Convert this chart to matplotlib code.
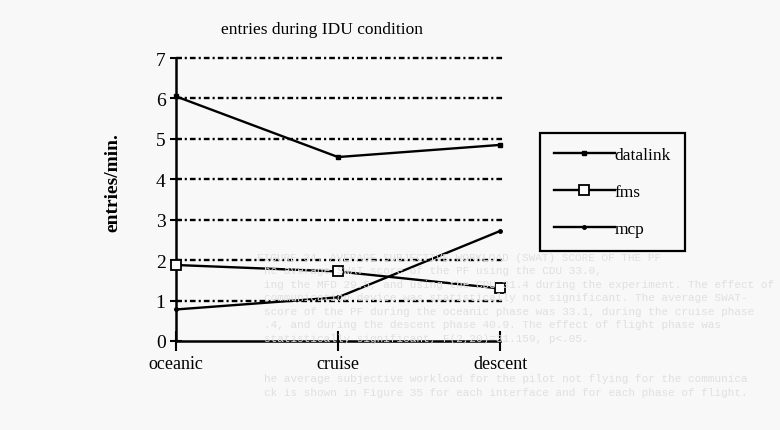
import matplotlib
matplotlib.use('Agg')
from matplotlib import pyplot as plt

# flight phases on the x axis
phases = ['oceanic', 'cruise', 'descent']

# entries per minute for each input device
datalink = [6.05, 4.55, 4.85]
fms = [1.88, 1.72, 1.30]
mcp = [0.78, 1.08, 2.72]

y_ticks = [0, 1, 2, 3, 4, 5, 6, 7]

# faint text showing through from the back of the page
back_lines = [
    'FIGURE 34. AVERAGE SUBJECTIVE WORKLOAD (SWAT) SCORE OF THE PF',
    'he average SWAT score of the PF using the CDU 33.0,',
    'ing the MFD 29.5, and using the CDU 31.4 during the experiment. The effect of',
    'communication device was statistically not significant. The average SWAT-',
    'score of the PF during the oceanic phase was 33.1, during the cruise phase',
    '.4, and during the descent phase 40.9. The effect of flight phase was',
    'statistically significant, F(2,20)=31.159, p<.05.',
    '',
    '',
    'he average subjective workload for the pilot not flying for the communica',
    'ck is shown in Figure 35 for each interface and for each phase of flight.',
]

serif = 'Liberation Serif'
bg = '#f8f8f8'

fig = plt.figure(figsize=(7.8, 4.31), dpi=100, facecolor=bg)

for i, line in enumerate(back_lines):
    x0 = 0.33 if i == 0 else 0.338
    fig.text(x0, 1 - (258 + i * 13.5) / 431, line, family='Liberation Mono',
             fontsize=7.9, color='#e0e0e0', va='center', zorder=0)

ax = fig.add_axes([176 / 780, 1 - 342 / 431, 324 / 780, 283 / 431])
ax.patch.set_visible(False)
x = list(range(len(phases)))

# dash-dot grid lines
for v in y_ticks[1:]:
    ax.axhline(v, xmin=0, xmax=1.01, color='black', lw=1.7,
               linestyle=(0, (2.4, 1.3, 0.9, 1.3)), zorder=1, clip_on=False)

ax.plot(x, datalink, color='black', lw=1.7, marker='s', ms=3.5,
        mfc='black', label='datalink', zorder=3, clip_on=False)
ax.plot(x, fms, color='black', lw=1.7, marker='s', ms=6.5,
        mfc='white', mew=1.3, label='fms', zorder=3, clip_on=False)
ax.plot(x, mcp, color='black', lw=1.7, marker='o', ms=2.5,
        mfc='black', label='mcp', zorder=3, clip_on=False)

ax.set_xlim(0, 2)
ax.set_ylim(0, 7)
ax.set_xticks(x)
ax.set_xticklabels(phases, family=serif, fontsize=13)
ax.set_yticks(y_ticks)
ax.set_yticklabels([str(t) for t in y_ticks], family=serif, fontsize=14)
ax.tick_params(axis='y', direction='inout', length=9, width=1.5, pad=3)
ax.tick_params(axis='x', direction='inout', length=14, width=1.5, pad=3)

for side in ['top', 'right']:
    ax.spines[side].set_visible(False)
for side in ['left', 'bottom']:
    ax.spines[side].set_linewidth(1.8)

fig.text(322 / 780, 1 - 30 / 431, 'entries during IDU condition',
         family=serif, fontsize=12.5, ha='center', va='center')
fig.text(113 / 780, 1 - 183 / 431, 'entries/min.', family=serif,
         fontsize=14, fontweight='bold', rotation=90, ha='center', va='center')

leg = fig.legend(loc='upper left', bbox_to_anchor=(540 / 780, 1 - 134 / 431),
                 prop={'family': serif, 'size': 12.5}, frameon=True,
                 fancybox=False, framealpha=1, edgecolor='black',
                 facecolor=bg, handlelength=3.5, handletextpad=0.0,
                 labelspacing=1.2, borderpad=0.8, borderaxespad=0,
                 numpoints=1)
leg.get_frame().set_linewidth(1.6)

fig.savefig('out.png', dpi=100, facecolor=bg)
